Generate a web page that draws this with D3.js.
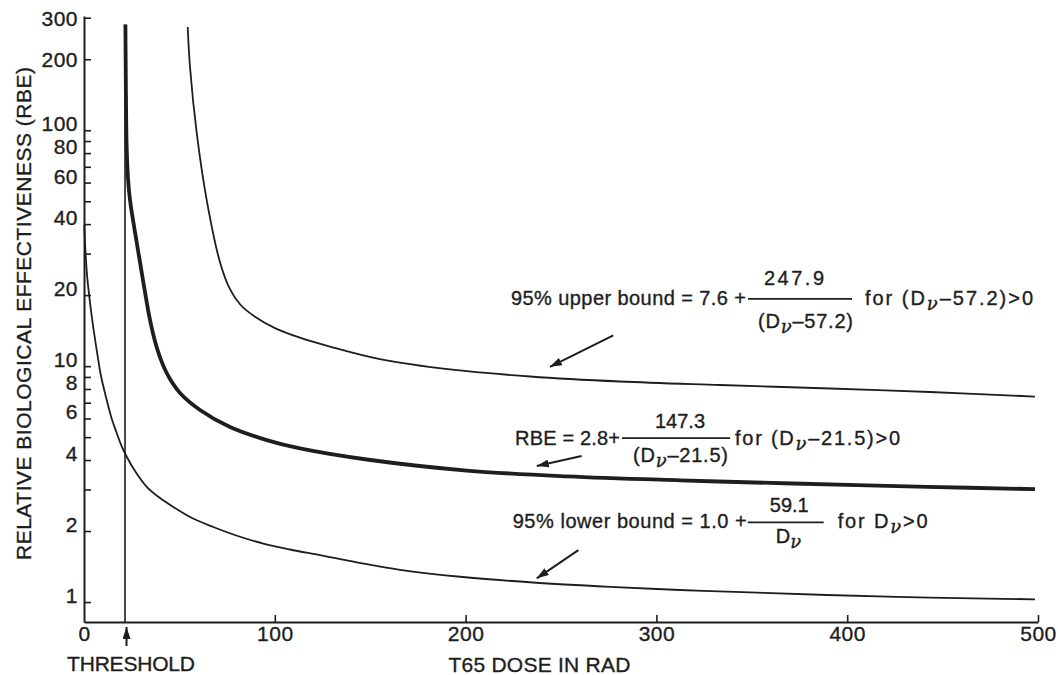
<!DOCTYPE html>
<html><head><meta charset="utf-8">
<script src="https://cdn.jsdelivr.net/npm/d3@7"></script>
<style>
html,body{margin:0;padding:0;background:#fff;}
svg{display:block;font-family:"Liberation Sans",Arial,Helvetica,sans-serif;}
svg text{stroke:#1e1e1e;stroke-width:0.35px;}
</style></head><body>
<svg id="chart" width="1058" height="675"></svg>
<script>
// ---- data ----
const doseUpper = [54.35, 55.56, 59.07, 64.31, 71.28, 76.52, 81.76, 89.62, 100.1, 113.2, 128.9, 155.1, 191.8, 233.8, 280.9, 333.3, 391.0, 443.4, 498.4];
const rbeUpper  = [274, 185.4, 97.4, 50.6, 27.6, 21.2, 18.3, 16.2, 14.5, 13.2, 12.1, 10.7, 9.68, 9.04, 8.61, 8.32, 8.04, 7.77, 7.43];

const doseMid = [21.70, 21.96, 22.33, 23.06, 24.11, 26.73, 29.35, 31.97, 34.59, 37.74, 41.40, 45.07, 50.31, 60.80, 76.52, 95.75, 113.2, 148.2, 200.6, 253.0, 312.4, 371.6, 441.8, 498.4];
const rbeMid  = [280.7, 148.1, 86.6, 62.7, 50.6, 37.0, 27.6, 20.6, 15.7, 12.3, 10.1, 8.82, 7.70, 6.52, 5.52, 4.86, 4.48, 4.02, 3.61, 3.41, 3.28, 3.18, 3.08, 3.01];

const doseLower = [0.16, 0.79, 1.73, 2.99, 4.45, 6.66, 8.91, 11.90, 14.41, 17.14, 19.65, 22.38, 27.25, 32.86, 39.31, 46.80, 56.60, 67.77, 80.19, 93.97, 107.97, 123.69, 143.61, 165.62, 197.07, 235.32, 275.68, 312.37, 349.06, 389.26, 443.40, 498.43];
const rbeLower  = [39.7, 30.5, 23.6, 19.1, 15.4, 11.7, 9.08, 7.19, 6.03, 5.21, 4.59, 4.13, 3.54, 3.08, 2.78, 2.53, 2.27, 2.08, 1.91, 1.77, 1.67, 1.58, 1.47, 1.37, 1.28, 1.21, 1.16, 1.125, 1.098, 1.071, 1.045, 1.027];

const yTickValues = [1,2,3,4,5,6,7,8,9,10,20,30,40,50,60,70,80,90,100,200,300];
const yTickLabels = [1,2,4,6,8,10,20,40,60,80,100,200,300];
const xTickValues = [0,100,200,300,400,500];
const thresholdDose = 21.5;

// ---- drawing ----
const ink = "#1e1e1e";
const svg = d3.select("#chart");
const x = d3.scaleLinear().domain([0, 500]).range([84, 1038]);
const y = d3.scaleLog().domain([0.823, 305]).range([622, 16]);

const defs = svg.append("defs");
defs.append("marker").attr("id", "ah")
  .attr("viewBox", "0 0 12 8").attr("refX", 12).attr("refY", 4)
  .attr("markerWidth", 12).attr("markerHeight", 8)
  .attr("markerUnits", "userSpaceOnUse").attr("orient", "auto")
  .append("path").attr("d", "M0,0 L12,4 L0,8 Z").attr("fill", ink);

// y axis
const yAxis = d3.axisLeft(y).tickValues(yTickValues).tickSizeInner(-7).tickSizeOuter(0).tickPadding(6)
  .tickFormat(d => yTickLabels.includes(d) ? String(d) : "");
const gy = svg.append("g").attr("transform", `translate(${x(0)},0)`).call(yAxis)
  .attr("font-family", null).attr("font-size", null);
gy.select(".domain").attr("stroke", ink).attr("stroke-width", 2);
gy.selectAll(".tick line").attr("stroke", ink).attr("stroke-width", 1.6);
gy.selectAll(".tick text").attr("fill", ink).style("font-size", "21px").style("letter-spacing", "0.5px")
  .attr("dy", d => d >= 200 ? "0.35em" : "0.02em");

// x axis
const xAxis = d3.axisBottom(x).tickValues(xTickValues).tickSizeInner(-7).tickSizeOuter(0).tickPadding(4);
const gx = svg.append("g").attr("transform", `translate(0,${y.range()[0]})`).call(xAxis)
  .attr("font-family", null).attr("font-size", null);
gx.select(".domain").attr("stroke", ink).attr("stroke-width", 2);
gx.selectAll(".tick line").attr("stroke", ink).attr("stroke-width", 1.6).filter(d => d === 0).remove();
gx.selectAll(".tick text").attr("fill", ink).style("font-size", "21px").style("letter-spacing", "0.5px");

// threshold line
svg.append("line")
  .attr("x1", x(thresholdDose)).attr("x2", x(thresholdDose))
  .attr("y1", y.range()[0]).attr("y2", y(rbeMid[0]))
  .attr("stroke", ink).attr("stroke-width", 1.6);

// curves
const line = d3.line().x(d => x(d[0])).y(d => y(d[1])).curve(d3.curveCatmullRom.alpha(0.5));
svg.append("path").datum(d3.zip(doseUpper, rbeUpper)).attr("d", line)
  .attr("fill", "none").attr("stroke", ink).attr("stroke-width", 1.8);
svg.append("path").datum(d3.zip(doseMid, rbeMid)).attr("d", line)
  .attr("fill", "none").attr("stroke", ink).attr("stroke-width", 3.8);
svg.append("path").datum(d3.zip(doseLower, rbeLower)).attr("d", line)
  .attr("fill", "none").attr("stroke", ink).attr("stroke-width", 1.8);

// annotation arrows (data coordinates)
const arrows = [
  {from: [277.4, 13.5], to: [244.2, 9.93]},
  {from: [260.8, 4.16], to: [237.3, 3.77]},
  {from: [259.1, 1.66], to: [237.3, 1.26]}
];
svg.selectAll("line.arr").data(arrows).join("line").attr("class", "arr")
  .attr("x1", d => x(d.from[0])).attr("y1", d => y(d.from[1]))
  .attr("x2", d => x(d.to[0])).attr("y2", d => y(d.to[1]))
  .attr("stroke", ink).attr("stroke-width", 2).attr("marker-end", "url(#ah)");

// formula helper
const fs = 20;
function addText(g, parts, tx, ty, len, anchor) {
  const t = g.append("text").attr("x", tx).attr("y", ty).attr("fill", ink)
    .style("font-size", fs + "px").attr("text-anchor", anchor || "start");
  if (len) t.attr("textLength", len).attr("lengthAdjust", "spacing");
  let lowered = false;
  parts.forEach(p => {
    if (typeof p === "string") {
      const s = t.append("tspan").text(p);
      if (lowered) { s.attr("dy", -5); lowered = false; }
    } else {
      t.append("tspan").text(p.sub).attr("dy", 5)
        .style("font-family", "'DejaVu Serif','Liberation Serif',serif").style("font-style", "italic")
        .style("font-size", (fs - 2) + "px");
      lowered = true;
    }
  });
  return t;
}
function addBar(g, x1, x2, yy) {
  g.append("line").attr("x1", x1).attr("x2", x2).attr("y1", yy).attr("y2", yy)
    .attr("stroke", ink).attr("stroke-width", 1.7);
}

// upper formula
const gU = svg.append("g").attr("transform", `translate(${x(223.8)},${y(18.17)})`);
addText(gU, ["95% upper bound = 7.6 +"], 0, 0, 235);
addBar(gU, 237, 341, -6);
addText(gU, ["247.9"], 283, -20, 60, "middle");
addText(gU, ["(D", {sub: "ν"}, "–57.2)"], 247, 23, 95);
addText(gU, ["for  (D", {sub: "ν"}, "–57.2)>0"], 354, 0, 168);

// middle formula
const gM = svg.append("g").attr("transform", `translate(${x(225.9)},${y(4.63)})`);
addText(gM, ["RBE = 2.8+"], 0, 0, 105);
addBar(gM, 107, 215, -7);
addText(gM, ["147.3"], 165, -16.7, null, "middle");
addText(gM, ["(D", {sub: "ν"}, "–21.5)"], 118, 16.7, 95);
addText(gM, ["for  (D", {sub: "ν"}, "–21.5)>0"], 220, 0, 165);

// lower formula
const gL = svg.append("g").attr("transform", `translate(${x(224.7)},${y(2.054)})`);
addText(gL, ["95% lower bound = 1.0 +"], 0, 0, 234);
addBar(gL, 235, 311, -6);
addText(gL, ["59.1"], 276.5, -16.6, null, "middle");
addText(gL, ["D", {sub: "ν"}], 263, 15, null);
addText(gL, ["for  D", {sub: "ν"}, ">0"], 325, 0, 90);

// threshold arrow + labels
const thX = x(thresholdDose);
svg.append("line").attr("x1", thX + 1.5).attr("x2", thX + 1.5).attr("y1", 646).attr("y2", 627)
  .attr("stroke", ink).attr("stroke-width", 2).attr("marker-end", "url(#ah)");
svg.append("text").attr("x", thX + 6).attr("y", 671).attr("text-anchor", "middle")
  .attr("textLength", 128).attr("lengthAdjust", "spacing")
  .attr("fill", ink).style("font-size", "21px").text("THRESHOLD");
svg.append("text").attr("x", x(191)).attr("y", 672)
  .attr("textLength", 182).attr("lengthAdjust", "spacing")
  .attr("fill", ink).style("font-size", "21px").text("T65 DOSE IN RAD");

// y title
svg.append("text").attr("transform", "translate(31,313.5) rotate(-90)").attr("text-anchor", "middle")
  .attr("textLength", 493).attr("lengthAdjust", "spacing")
  .attr("fill", ink).style("font-size", "21px").text("RELATIVE BIOLOGICAL EFFECTIVENESS (RBE)");
</script>
</body></html>
